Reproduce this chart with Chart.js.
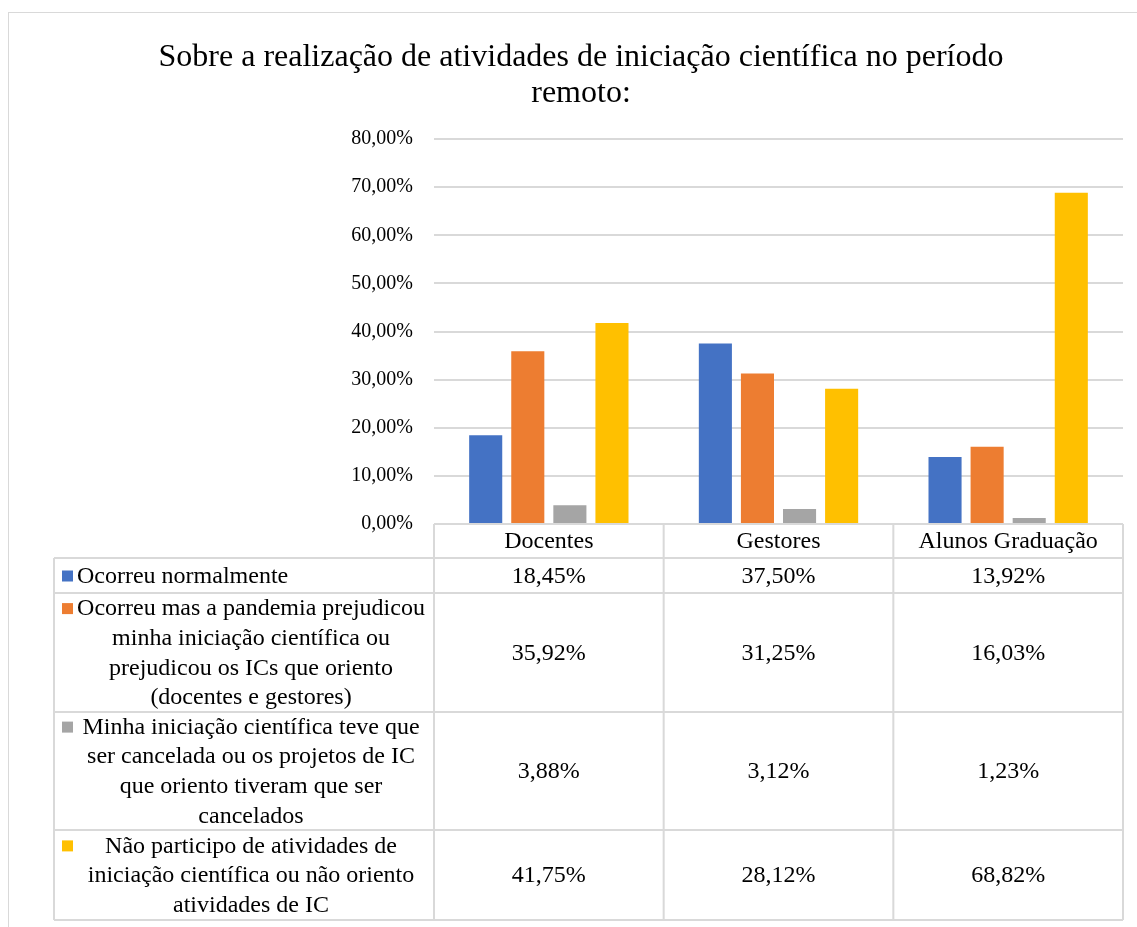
<!DOCTYPE html>
<html>
<head>
<meta charset="utf-8">
<script src="https://cdn.jsdelivr.net/npm/chart.js@4"></script>
<style>
  body { margin: 0; background: #fff; }
  canvas { display: block; }
</style>
</head>
<body>
<canvas id="icChart" width="1137" height="927"></canvas>
<script>
const titleLines = ['Sobre a realização de atividades de iniciação científica no período', 'remoto:'];
const categories = ['Docentes', 'Gestores', 'Alunos Graduação'];

const seriesLabels = [
    ['Ocorreu normalmente'],
    ['Ocorreu mas a pandemia prejudicou', 'minha iniciação científica ou', 'prejudicou os ICs que oriento', '(docentes e gestores)'],
    ['Minha iniciação científica teve que', 'ser cancelada ou os projetos de IC', 'que oriento tiveram que ser', 'cancelados'],
    ['Não participo de atividades de', 'iniciação científica ou não oriento', 'atividades de IC']
];
const seriesColors = ['#4472C4', '#ED7D31', '#A5A5A5', '#FFC000'];

const normalmente = [18.45, 37.50, 13.92];
const prejudicou = [35.92, 31.25, 16.03];
const cancelada = [3.88, 3.12, 1.23];
const naoParticipo = [41.75, 28.12, 68.82];
const seriesValues = [normalmente, prejudicou, cancelada, naoParticipo];

const yTicks = [0, 10, 20, 30, 40, 50, 60, 70, 80];

const FONT = '"Liberation Serif", "Times New Roman", serif';
const fmt = v => v.toFixed(2).replace('.', ',') + '%';

const background = {
    id: 'background',
    beforeDraw(chart) {
        const ctx = chart.ctx;
        ctx.save();
        ctx.fillStyle = '#fff';
        ctx.fillRect(0, 0, chart.width, chart.height);
        ctx.strokeStyle = '#d9d9d9';
        ctx.lineWidth = 1;
        ctx.strokeRect(8.5, 12.5, chart.width + 50, chart.height + 50);
        // title
        ctx.fillStyle = '#000';
        ctx.font = '32px ' + FONT;
        ctx.textAlign = 'center';
        ctx.textBaseline = 'middle';
        titleLines.forEach((t, i) => ctx.fillText(t, 581, 58 + i * 36));
        ctx.restore();
    }
};

const dataTable = {
    id: 'dataTable',
    afterDraw(chart) {
        const { ctx, chartArea, scales: { x } } = chart;
        const colW = (x.right - x.left) / categories.length;
        const rowH = [34, 35, 119, 118, 90];
        const tableLeft = 54;
        const top = chartArea.bottom;
        const rowTops = [top];
        rowH.forEach(h => rowTops.push(rowTops[rowTops.length - 1] + h));
        const bottom = rowTops[rowTops.length - 1];

        ctx.save();
        ctx.strokeStyle = '#d9d9d9';
        ctx.lineWidth = 2;
        ctx.beginPath();
        ctx.moveTo(x.left, top); ctx.lineTo(x.right, top);
        for (let i = 1; i < rowTops.length; i++) {
            ctx.moveTo(tableLeft, rowTops[i]); ctx.lineTo(x.right, rowTops[i]);
        }
        ctx.moveTo(tableLeft, rowTops[1]); ctx.lineTo(tableLeft, bottom);
        for (let c = 0; c <= categories.length; c++) {
            const cx = x.left + c * colW;
            ctx.moveTo(cx, top); ctx.lineTo(cx, bottom);
        }
        ctx.stroke();

        ctx.fillStyle = '#000';
        ctx.font = '24px ' + FONT;
        ctx.textBaseline = 'middle';
        ctx.textAlign = 'center';
        categories.forEach((c, i) => {
            ctx.fillText(c, x.getPixelForValue(i), top + rowH[0] / 2 + 1);
        });

        const lineH = 29.6;
        seriesValues.forEach((vals, s) => {
            const rTop = rowTops[s + 1];
            const mid = rTop + rowH[s + 1] / 2;
            ctx.fillStyle = '#000';
            ctx.textAlign = 'center';
            vals.forEach((v, i) => ctx.fillText(fmt(v), x.getPixelForValue(i), mid + 1));

            const lines = seriesLabels[s];
            const firstY = mid - (lines.length - 1) / 2 * lineH;
            ctx.fillStyle = seriesColors[s];
            ctx.fillRect(62, firstY - 5, 11, 11);
            ctx.fillStyle = '#000';
            if (lines.length === 1) {
                ctx.textAlign = 'left';
                ctx.fillText(lines[0], 77, firstY + 1);
            } else {
                ctx.textAlign = 'center';
                lines.forEach((l, k) => ctx.fillText(l, 251, firstY + k * lineH + 1));
            }
        });
        ctx.restore();
    }
};

new Chart(document.getElementById('icChart'), {
    type: 'bar',
    data: {
        labels: categories,
        datasets: seriesValues.map((vals, s) => ({
            label: seriesLabels[s].join(' '),
            data: vals,
            backgroundColor: seriesColors[s],
            categoryPercentage: 0.733,
            barPercentage: 0.786
        }))
    },
    options: {
        responsive: false,
        animation: false,
        layout: { padding: { top: 139, bottom: 403, right: 14, left: 0 } },
        plugins: {
            legend: { display: false },
            title: { display: false },
            tooltip: { enabled: false }
        },
        scales: {
            x: { display: false },
            y: {
                min: 0,
                max: 80,
                afterBuildTicks: s => { s.ticks = yTicks.map(v => ({ value: v })); },
                afterFit: s => { s.width = 434; },
                border: { display: false },
                grid: { color: '#d9d9d9', lineWidth: 2, drawTicks: false },
                ticks: {
                    padding: 21,
                    color: '#000',
                    font: { family: FONT, size: 20 },
                    callback: v => fmt(v)
                }
            }
        }
    },
    plugins: [background, dataTable]
});
</script>
</body>
</html>
